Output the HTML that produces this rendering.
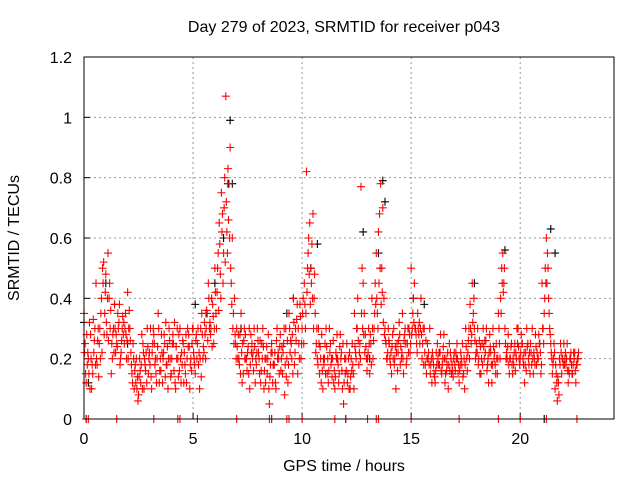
<!DOCTYPE html>
<html><head><meta charset="utf-8"><style>
body{margin:0;background:#fff}
svg{display:block;font-family:"Liberation Sans",sans-serif}
</style></head><body>
<svg id="chart" width="640" height="480" viewBox="0 0 640 480">
<rect width="640" height="480" fill="#fff"/>
<text x="344" y="32" font-size="16" text-anchor="middle">Day 279 of 2023, SRMTID for receiver p043</text>
<text transform="translate(19,238) rotate(-90)" font-size="16" text-anchor="middle">SRMTID / TECUs</text>
<text x="344" y="471" font-size="16" text-anchor="middle">GPS time / hours</text>
<g id="grid"></g>
<g id="ticks"></g>
<g id="marks"></g>
<rect x="84" y="57" width="530" height="362" fill="none" stroke="#000" stroke-width="1"/>
</svg>
<script>
const xTicks=[0,5,10,15,20];
const yTicks=[0,0.2,0.4,0.6,0.8,1,1.2];
const yTickLabels=["0","0.2","0.4","0.6","0.8","1","1.2"];
const redT=[0,0.1,0.2,0.3,0.4,0.5,0.6,0.7,0.8,0.9,1,1.1,1.2,1.3,1.4,1.5,1.6,1.7,1.8,1.9,2,2.1,2.2,2.3,2.4,2.5,2.6,2.7,2.8,2.9,3,3.1,3.2,3.3,3.4,3.5,3.6,3.7,3.8,3.9,4,4.1,4.2,4.3,4.4,4.5,4.6,4.7,4.8,4.9,5,5.1,5.2,5.3,5.4,5.5,5.6,5.7,5.8,5.9,6,6.1,6.2,6.3,6.4,6.5,6.6,6.7,6.8,6.9,7,7.1,7.2,7.3,7.4,7.5,7.6,7.7,7.8,7.9,8,8.1,8.2,8.3,8.4,8.5,8.6,8.7,8.8,8.9,9,9.1,9.2,9.3,9.4,9.5,9.6,9.7,9.8,9.9,10,10.1,10.2,10.3,10.4,10.5,10.6,10.7,10.8,10.9,11,11.1,11.2,11.3,11.4,11.5,11.6,11.7,11.8,11.9,12,12.1,12.2,12.3,12.4,12.5,12.6,12.7,12.8,12.9,13,13.1,13.2,13.3,13.4,13.5,13.6,13.7,13.8,13.9,14,14.1,14.2,14.3,14.4,14.5,14.6,14.7,14.8,14.9,15,15.1,15.2,15.3,15.4,15.5,15.6,15.7,15.8,15.9,16,16.1,16.2,16.3,16.4,16.5,16.6,16.7,16.8,16.9,17,17.1,17.2,17.3,17.4,17.5,17.6,17.7,17.8,17.9,18,18.1,18.2,18.3,18.4,18.5,18.6,18.7,18.8,18.9,19,19.1,19.2,19.3,19.4,19.5,19.6,19.7,19.8,19.9,20,20.1,20.2,20.3,20.4,20.5,20.6,20.7,20.8,20.9,21,21.1,21.2,21.3,21.4,21.5,21.6,21.7,21.8,21.9,22,22.1,22.2,22.3,22.4,22.5,22.6];
const redA=[0.35,0.12,0.2,0.28,0.15,0.3,0.18,0.25,0.4,0.52,
0.48,0.55,0.3,0.2,0.38,0.25,0.32,0.22,0.28,0.35,
0.42,0.3,0.15,0.1,0.2,0.08,0.12,0.25,0.18,0.3,
0.22,0.1,0.28,0.15,0.35,0.2,0.12,0.25,0.18,0.3,
0.15,0.25,0.1,0.2,0.3,0.18,0.22,0.12,0.28,0.2,
0.3,0.15,0.25,0.1,0.35,0.22,0.3,0.45,0.28,0.38,
0.5,0.42,0.65,0.75,0.55,1.07,0.83,0.9,0.6,0.4,
0.3,0.2,0.35,0.15,0.28,0.22,0.1,0.25,0.3,0.18,
0.22,0.12,0.3,0.2,0.15,0.05,0.25,0.18,0.1,0.22,
0.28,0.15,0.08,0.2,0.35,0.25,0.4,0.3,0.15,0.38,
0.3,0.45,0.82,0.6,0.5,0.68,0.35,0.2,0.15,0.28,
0.18,0.3,0.12,0.25,0.2,0.1,0.28,0.15,0.22,0.05,
0.2,0.15,0.1,0.25,0.35,0.3,0.18,0.77,0.45,0.28,
0.2,0.15,0.4,0.3,0.55,0.62,0.78,0.7,0.3,0.2,
0.25,0.15,0.3,0.1,0.22,0.18,0.35,0.28,0.2,0.3,
0.5,0.4,0.3,0.35,0.25,0.2,0.3,0.15,0.22,0.18,
0.2,0.12,0.25,0.18,0.15,0.28,0.2,0.1,0.22,0.16,
0.18,0.25,0.12,0.2,0.15,0.3,0.22,0.38,0.45,0.3,
0.25,0.2,0.15,0.3,0.22,0.18,0.28,0.12,0.2,0.25,
0.35,0.4,0.55,0.3,0.2,0.15,0.25,0.18,0.22,0.3,
0.2,0.25,0.12,0.3,0.18,0.22,0.15,0.28,0.2,0.25,
0.45,0.35,0.6,0.4,0.25,0.18,0.1,0.06,0.2,0.15,
0.25,0.18,0.12,0.2,0.15,0.22,0.18];
const redB=[0.25,0.18,0.32,0.1,0.22,0.45,0.3,0.2,0.5,0.35,
0.28,0.4,0.15,0.3,0.22,0.35,0.18,0.3,0.25,0.2,
0.3,0.22,0.25,0.18,0.14,0.2,0.28,0.1,0.22,0.15,
0.3,0.25,0.18,0.2,0.12,0.28,0.22,0.32,0.1,0.2,
0.25,0.32,0.2,0.28,0.12,0.25,0.15,0.3,0.1,0.25,
0.2,0.28,0.18,0.3,0.2,0.28,0.35,0.3,0.4,0.25,
0.35,0.55,0.48,0.68,0.8,0.62,0.78,0.45,0.35,0.25,
0.2,0.28,0.12,0.3,0.2,0.15,0.28,0.22,0.12,0.3,
0.15,0.25,0.1,0.2,0.28,0.18,0.12,0.22,0.3,0.15,
0.2,0.25,0.3,0.12,0.22,0.28,0.18,0.33,0.25,0.2,
0.4,0.3,0.5,0.65,0.58,0.4,0.25,0.3,0.2,0.1,
0.25,0.15,0.3,0.2,0.12,0.22,0.18,0.28,0.1,0.2,
0.25,0.1,0.2,0.15,0.22,0.4,0.25,0.5,0.35,0.2,
0.3,0.25,0.2,0.45,0.35,0.68,0.5,0.4,0.25,0.3,
0.18,0.28,0.2,0.25,0.32,0.2,0.15,0.25,0.3,0.22,
0.3,0.45,0.25,0.28,0.4,0.3,0.18,0.25,0.3,0.12,
0.15,0.22,0.18,0.28,0.2,0.12,0.18,0.25,0.15,0.2,
0.22,0.15,0.18,0.25,0.1,0.2,0.3,0.25,0.35,0.2,
0.3,0.15,0.25,0.2,0.3,0.12,0.22,0.3,0.18,0.15,
0.25,0.5,0.45,0.2,0.28,0.2,0.15,0.25,0.3,0.2,
0.28,0.18,0.22,0.25,0.15,0.3,0.2,0.18,0.28,0.15,
0.3,0.5,0.55,0.3,0.2,0.25,0.15,0.12,0.25,0.2,
0.2,0.25,0.15,0.18,0.22,0.12,0.2];
const redC=[0.22,0.28,0.15,0.2,0.33,0.18,0.26,0.3,0.22,0.28,
0.32,0.26,0.36,0.28,0.3,0.24,0.38,0.26,0.32,0.28,
0.2,0.26,0.12,0.16,0.1,0.14,0.18,0.22,0.16,0.24,
0.18,0.22,0.25,0.12,0.3,0.16,0.2,0.14,0.24,0.26,
0.2,0.16,0.24,0.14,0.2,0.26,0.18,0.2,0.24,0.16,
0.22,0.26,0.3,0.2,0.28,0.32,0.36,0.4,0.3,0.34,
0.42,0.5,0.58,0.62,0.7,0.72,0.66,0.5,0.3,0.28,
0.24,0.18,0.22,0.26,0.2,0.24,0.18,0.2,0.24,0.22,
0.2,0.16,0.24,0.12,0.2,0.14,0.22,0.18,0.26,0.2,
0.16,0.22,0.18,0.26,0.3,0.2,0.32,0.26,0.3,0.34,
0.35,0.38,0.42,0.48,0.45,0.3,0.22,0.18,0.24,0.16,
0.2,0.24,0.16,0.18,0.26,0.14,0.2,0.24,0.16,0.12,
0.16,0.2,0.14,0.18,0.24,0.3,0.22,0.35,0.28,0.24,
0.22,0.28,0.3,0.35,0.4,0.45,0.38,0.32,0.26,0.22,
0.2,0.24,0.18,0.22,0.26,0.24,0.2,0.3,0.25,0.28,
0.28,0.32,0.28,0.3,0.3,0.25,0.22,0.2,0.18,0.2,
0.18,0.16,0.2,0.22,0.18,0.2,0.16,0.18,0.2,0.14,
0.16,0.2,0.16,0.18,0.2,0.24,0.26,0.3,0.32,0.26,
0.22,0.26,0.2,0.24,0.26,0.2,0.24,0.18,0.22,0.2,
0.3,0.35,0.42,0.25,0.24,0.2,0.18,0.22,0.2,0.24,
0.22,0.2,0.18,0.24,0.22,0.18,0.22,0.24,0.2,0.22,
0.3,0.4,0.45,0.35,0.22,0.2,0.18,0.14,0.18,0.2,
0.18,0.2,0.16,0.22,0.18,0.16,0.2];
const redD=[0.15,0.22,0.1,0.18,0.26,0.2,0.14,0.35,0.45,0.42,
0.4,0.45,0.25,0.22,0.28,0.3,0.2,0.34,0.3,0.26,
0.36,0.18,0.2,0.12,0.06,0.16,0.1,0.2,0.12,0.2,
0.14,0.3,0.2,0.24,0.16,0.22,0.28,0.18,0.2,0.14,
0.28,0.12,0.3,0.16,0.22,0.12,0.28,0.24,0.18,0.3,
0.18,0.2,0.22,0.14,0.24,0.2,0.26,0.32,0.24,0.3,
0.3,0.36,0.4,0.45,0.52,0.55,0.6,0.38,0.25,0.2,
0.28,0.15,0.25,0.2,0.16,0.3,0.22,0.16,0.2,0.26,
0.26,0.2,0.16,0.24,0.1,0.22,0.18,0.12,0.2,0.24,
0.24,0.3,0.14,0.18,0.26,0.15,0.22,0.38,0.2,0.25,
0.25,0.35,0.55,0.38,0.4,0.48,0.3,0.25,0.12,0.2,
0.15,0.2,0.22,0.14,0.16,0.2,0.12,0.2,0.25,0.15,
0.12,0.22,0.16,0.1,0.2,0.26,0.2,0.3,0.22,0.16,
0.25,0.18,0.26,0.38,0.3,0.5,0.42,0.28,0.2,0.26,
0.22,0.2,0.24,0.16,0.28,0.22,0.26,0.18,0.22,0.25,
0.35,0.3,0.22,0.32,0.28,0.18,0.26,0.2,0.15,0.22,
0.14,0.18,0.22,0.16,0.24,0.15,0.22,0.16,0.18,0.22,
0.2,0.18,0.22,0.14,0.18,0.16,0.2,0.28,0.4,0.22,
0.18,0.24,0.18,0.26,0.16,0.22,0.18,0.24,0.15,0.2,
0.2,0.45,0.5,0.22,0.18,0.24,0.2,0.16,0.25,0.18,
0.25,0.22,0.16,0.2,0.25,0.2,0.18,0.22,0.25,0.18,
0.25,0.45,0.5,0.28,0.15,0.22,0.12,0.08,0.22,0.18,
0.22,0.16,0.2,0.15,0.2,0.18,0.22];
const redZeroT=[0.1,0.2,1.5,3.2,4.3,4.4,5.2,7.0,8.5,8.6,9.3,9.4,10.0,11.5,12.0,13.0,13.4,13.5,15.0,17.2,19.0,20.0,21.2,22.6];
const blkT=[0.0,0.2,1.0,1.4,2.0,5.1,5.6,6.0,6.4,6.6,6.7,6.8,7.2,9.3,9.6,10.4,10.7,12.8,13.1,13.5,13.7,13.8,15.1,15.6,17.9,19.3,21.4,21.6,22.3];
const blkV=[0.32,0.12,0.45,0.38,0.25,0.38,0.35,0.45,0.6,0.78,0.99,0.78,0.3,0.35,0.4,0.5,0.58,0.62,0.2,0.55,0.79,0.72,0.4,0.38,0.45,0.56,0.63,0.55,0.2];
const blkZeroT=[0.1,8.6,12.0,21.1];

const X0=84,X1=614,Y0=419,Y1=57,XMAX=24.3,YMAX=1.2;
const xs=t=>X0+(X1-X0)*t/XMAX;
const ys=v=>Y0-(Y0-Y1)*v/YMAX;
const NS="http://www.w3.org/2000/svg";
const grid=document.getElementById('grid'),ticks=document.getElementById('ticks'),marks=document.getElementById('marks');
function mk(tag,attrs,parent){const e=document.createElementNS(NS,tag);for(const k in attrs)e.setAttribute(k,attrs[k]);parent.appendChild(e);return e;}
xTicks.forEach(t=>{
  const x=xs(t);
  if(t>0){const g=mk('line',{x1:x,x2:x,y1:Y1,y2:Y0,stroke:'#999','stroke-dasharray':'2,3','stroke-width':1},grid);
  
  }
  const l=mk('line',{x1:x,x2:x,y1:Y0,y2:Y0-6,stroke:'#000'},ticks);
  
  
  const tx=mk('text',{x:x,y:Y0+25,'font-size':16,'text-anchor':'middle'},ticks);tx.textContent=t;
  
  
});
yTicks.forEach((v,i)=>{
  const y=ys(v);
  if(v>0&&v<YMAX){const g=mk('line',{x1:X0,x2:X1,y1:y,y2:y,stroke:'#999','stroke-dasharray':'2,3','stroke-width':1},grid);
  
  }
  const l=mk('line',{x1:X0,x2:X0+6,y1:y,y2:y,stroke:'#000'},ticks);
  
  
  const tx=mk('text',{x:X0-12,y:y+6,'font-size':16,'text-anchor':'end'},ticks);tx.textContent=yTickLabels[i];
  
  
});
function plus(t,v,col){
  const x=xs(t),y=ys(v),s=4;
  const p=mk('path',{d:`M${x-s},${y}H${x+s}M${x},${y-s}V${y+s}`,stroke:col,'stroke-width':1.1,fill:'none'},marks);
  
  
}
blkT.forEach((t,i)=>plus(t,blkV[i],'#000'));
blkZeroT.forEach(t=>plus(t,0,'#000'));
redT.forEach((t,i)=>plus(t,redA[i],'#f00'));
redT.forEach((t,i)=>plus(t+0.05,redB[i],'#f00'));
redT.forEach((t,i)=>plus(t+0.025,redC[i],'#f00'));
redT.forEach((t,i)=>plus(t+0.075,redD[i],'#f00'));
redZeroT.forEach(t=>plus(t,0,'#f00'));
</script>
</body></html>
